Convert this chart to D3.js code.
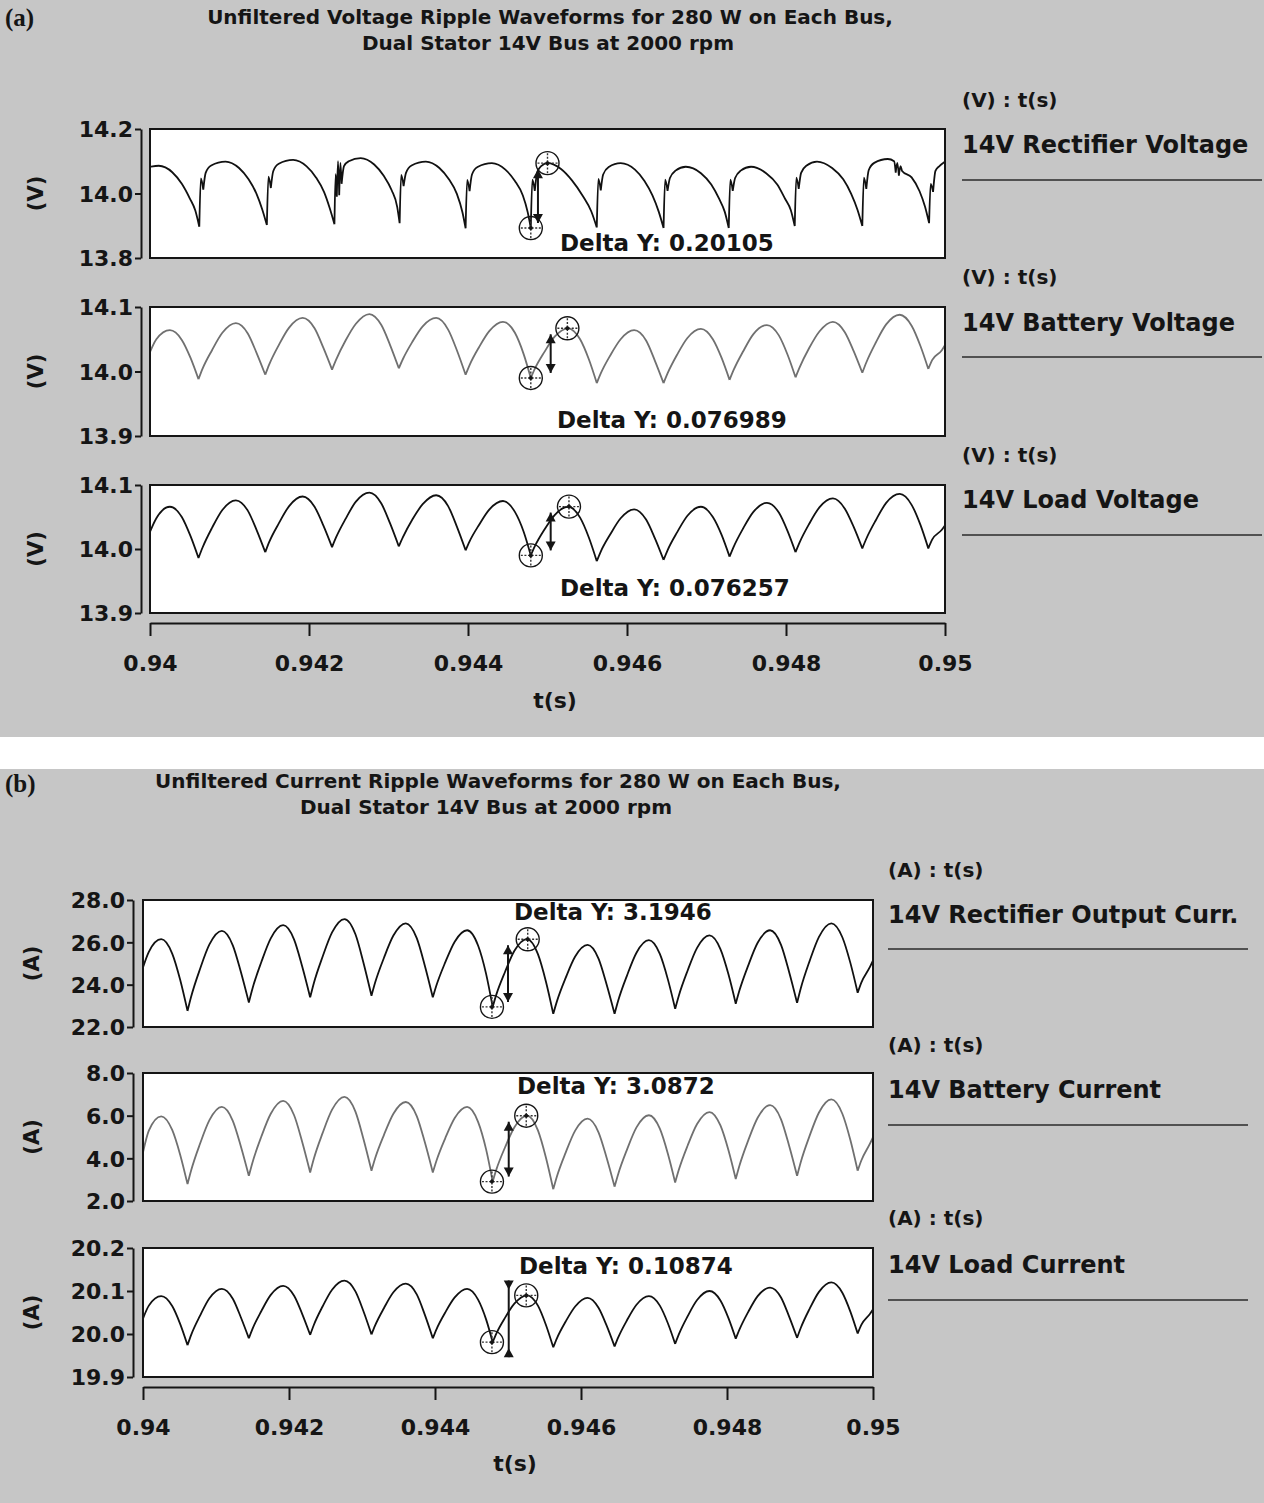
<!DOCTYPE html>
<html>
<head>
<meta charset="utf-8">
<title>Unfiltered ripple waveforms, dual stator 14V bus</title>
<script src="https://cdn.jsdelivr.net/npm/d3@7/dist/d3.min.js"></script>
<style>
  html, body { margin: 0; padding: 0; background: #ffffff; }
  svg { display: block; }
</style>
</head>
<body>
<svg id="fig" width="1264" height="1503"></svg>
<script>
// ---------------- shared time axis ----------------
const xDomain = [0.94, 0.95];
const xTicks = [0.94, 0.942, 0.944, 0.946, 0.948, 0.95];
const xTickLabels = ["0.94", "0.942", "0.944", "0.946", "0.948", "0.95"];

// ---------------- titles, names, units ----------------
const titleVoltage = ["Unfiltered Voltage Ripple Waveforms for 280 W on Each Bus,", "Dual Stator 14V Bus at 2000 rpm"];
const titleCurrent = ["Unfiltered Current Ripple Waveforms for 280 W on Each Bus,", "Dual Stator 14V Bus at 2000 rpm"];
const seriesNames = ["14V Rectifier Voltage", "14V Battery Voltage", "14V Load Voltage",
                     "14V Rectifier Output Curr.", "14V Battery Current", "14V Load Current"];
const unitLabels = ["(V) : t(s)", "(V) : t(s)", "(V) : t(s)", "(A) : t(s)", "(A) : t(s)", "(A) : t(s)"];
const axisUnits = ["(V)", "(V)", "(V)", "(A)", "(A)", "(A)"];

// ---------------- y axes ----------------
const yDomains = [[13.8, 14.2], [13.9, 14.1], [13.9, 14.1], [22, 28], [2, 8], [19.9, 20.2]];
const yTicks = [[13.8, 14.0, 14.2], [13.9, 14.0, 14.1], [13.9, 14.0, 14.1],
                [22, 24, 26, 28], [2, 4, 6, 8], [19.9, 20.0, 20.1, 20.2]];

// ---------------- 14V rectifier voltage (s, V) ----------------
const tRect = [
  0.94000, 0.94011, 0.94028, 0.94040, 0.94050, 0.94057,
  0.94062, 0.94064, 0.94067, 0.94070, 0.94077, 0.94095, 0.94112, 0.94124, 0.94134, 0.94141,
  0.94147, 0.94149, 0.94152, 0.94155, 0.94162, 0.94180, 0.94197, 0.94209, 0.94219, 0.94226,
  0.94232, 0.942335, 0.94235, 0.942365, 0.94238, 0.942395, 0.94241, 0.94244, 0.94250, 0.94265, 0.94282, 0.94294, 0.94304, 0.94311,
  0.94314, 0.94316, 0.94319, 0.94322, 0.94329, 0.94347, 0.94364, 0.94376, 0.94386, 0.94393,
  0.94397, 0.94399, 0.94402, 0.94405, 0.94412, 0.94430, 0.94447, 0.94459, 0.94469, 0.94475,
  0.94479, 0.94481, 0.94484, 0.94487, 0.94492, 0.94500, 0.94517, 0.94531, 0.94544, 0.94555,
  0.94562, 0.94564, 0.94567, 0.94570, 0.94577, 0.94592, 0.94610, 0.94622, 0.94632, 0.94640,
  0.94646, 0.94648, 0.94651, 0.94654, 0.94661, 0.94674, 0.94693, 0.94706, 0.94716, 0.94723,
  0.94728, 0.94730, 0.94733, 0.94736, 0.94743, 0.94756, 0.94775, 0.94789, 0.94799, 0.94806,
  0.94811, 0.94813, 0.94816, 0.94819, 0.94826, 0.94839, 0.94858, 0.94872, 0.94882, 0.94890,
  0.94896, 0.94898, 0.94901, 0.94904, 0.94911, 0.94928, 0.94936, 0.94938, 0.94940, 0.94942, 0.94944, 0.94946, 0.94958, 0.94968, 0.94975,
  0.94980, 0.94982, 0.94985, 0.94988, 0.94993, 0.95000
];
const vRect = [
  14.083, 14.086, 14.066, 14.030, 13.985, 13.947,
  13.897, 14.047, 14.012, 14.064, 14.087, 14.099, 14.079, 14.044, 13.999, 13.952,
  13.902, 14.052, 14.017, 14.069, 14.092, 14.104, 14.084, 14.049, 14.004, 13.955,
  13.905, 14.060, 13.990, 14.100, 13.995, 14.095, 14.030, 14.085, 14.100, 14.110, 14.090, 14.055, 14.010, 13.958,
  13.908, 14.058, 14.023, 14.064, 14.087, 14.099, 14.079, 14.044, 13.999, 13.942,
  13.892, 14.042, 14.007, 14.059, 14.082, 14.094, 14.074, 14.039, 13.994, 13.943,
  13.893, 14.043, 14.008, 14.065, 14.085, 14.094, 14.076, 14.040, 13.994, 13.945,
  13.895, 14.045, 14.010, 14.059, 14.082, 14.094, 14.074, 14.039, 13.994, 13.943,
  13.893, 14.043, 14.008, 14.048, 14.071, 14.083, 14.063, 14.028, 13.983, 13.943,
  13.893, 14.043, 14.008, 14.048, 14.071, 14.083, 14.063, 14.028, 13.983, 13.949,
  13.899, 14.049, 14.014, 14.064, 14.087, 14.099, 14.079, 14.044, 13.999, 13.949,
  13.899, 14.049, 14.014, 14.072, 14.095, 14.107, 14.100, 14.065, 14.095, 14.055, 14.085, 14.070, 14.050, 14.007, 13.958,
  13.908, 14.030, 14.005, 14.070, 14.085, 14.099
];

// ---------------- sample times of the filtered-side traces (s) ----------------
const tRipple = [
  0.94000, 0.94008, 0.94025, 0.94040, 0.94051,
  0.94061, 0.94066, 0.94078, 0.94091, 0.94108, 0.94123, 0.94134,
  0.94145, 0.94150, 0.94162, 0.94175, 0.94192, 0.94207, 0.94218,
  0.94229, 0.94234, 0.94246, 0.94259, 0.94276, 0.94291, 0.94302,
  0.94313, 0.94318, 0.94330, 0.94343, 0.94360, 0.94375, 0.94386,
  0.94397, 0.94402, 0.94414, 0.94427, 0.94444, 0.94459, 0.94470,
  0.94479, 0.94484, 0.94496, 0.94509, 0.94526, 0.94541, 0.94552,
  0.94562, 0.94567, 0.94579, 0.94592, 0.94609, 0.94624, 0.94635,
  0.94646, 0.94651, 0.94663, 0.94676, 0.94693, 0.94708, 0.94719,
  0.94729, 0.94734, 0.94746, 0.94759, 0.94776, 0.94791, 0.94802,
  0.94812, 0.94817, 0.94829, 0.94842, 0.94859, 0.94874, 0.94885,
  0.94896, 0.94901, 0.94913, 0.94926, 0.94943, 0.94958, 0.94969,
  0.94979, 0.94984, 0.94996, 0.95000
];

// 14V battery voltage (V)
const vBattery = [
  14.030, 14.050, 14.064, 14.049, 14.021,
  13.988, 14.004, 14.033, 14.060, 14.075, 14.059, 14.029,
  13.995, 14.011, 14.041, 14.068, 14.083, 14.067, 14.037,
  14.003, 14.018, 14.048, 14.074, 14.089, 14.072, 14.041,
  14.005, 14.019, 14.046, 14.070, 14.083, 14.065, 14.033,
  13.995, 14.010, 14.038, 14.063, 14.077, 14.060, 14.027,
  13.990, 14.004, 14.030, 14.054, 14.067, 14.050, 14.019,
  13.982, 13.997, 14.025, 14.050, 14.064, 14.048, 14.017,
  13.982, 13.997, 14.026, 14.052, 14.066, 14.050, 14.021,
  13.987, 14.002, 14.031, 14.058, 14.072, 14.056, 14.026,
  13.991, 14.006, 14.036, 14.062, 14.077, 14.061, 14.032,
  13.998, 14.014, 14.045, 14.073, 14.088, 14.071, 14.040,
  14.004, 14.018, 14.033, 14.041
];

// 14V load voltage (V)
const vLoad = [
  14.027, 14.048, 14.066, 14.050, 14.020,
  13.986, 14.002, 14.033, 14.061, 14.076, 14.060, 14.030,
  13.995, 14.011, 14.040, 14.067, 14.082, 14.066, 14.037,
  14.003, 14.018, 14.047, 14.074, 14.088, 14.071, 14.040,
  14.004, 14.018, 14.046, 14.070, 14.084, 14.067, 14.035,
  13.998, 14.012, 14.038, 14.062, 14.075, 14.058, 14.027,
  13.990, 14.004, 14.030, 14.053, 14.066, 14.049, 14.018,
  13.981, 13.996, 14.023, 14.048, 14.062, 14.046, 14.017,
  13.983, 13.998, 14.026, 14.052, 14.066, 14.050, 14.022,
  13.988, 14.003, 14.032, 14.058, 14.072, 14.057, 14.028,
  13.995, 14.010, 14.039, 14.065, 14.079, 14.063, 14.035,
  14.001, 14.016, 14.045, 14.072, 14.086, 14.069, 14.038,
  14.001, 14.015, 14.030, 14.037
];

// 14V rectifier output current (A)
const iRectOut = [
  24.82, 25.55, 26.15, 25.47, 24.22,
  22.76, 23.44, 24.73, 25.90, 26.54, 25.86, 24.61,
  23.16, 23.82, 25.06, 26.19, 26.81, 26.13, 24.87,
  23.40, 24.07, 25.32, 26.47, 27.10, 26.38, 25.04,
  23.48, 24.10, 25.26, 26.32, 26.90, 26.20, 24.91,
  23.40, 23.97, 25.05, 26.03, 26.57, 25.85, 24.51,
  22.95, 23.53, 24.61, 25.61, 26.15, 25.44, 24.14,
  22.62, 23.21, 24.32, 25.33, 25.88, 25.23, 24.02,
  22.62, 23.25, 24.43, 25.51, 26.10, 25.45, 24.25,
  22.86, 23.48, 24.66, 25.74, 26.33, 25.68, 24.49,
  23.10, 23.72, 24.90, 25.98, 26.57, 25.88, 24.61,
  23.14, 23.82, 25.10, 26.26, 26.90, 26.24, 25.03,
  23.62, 24.10, 24.85, 25.14
];

// 14V battery current (A)
const iBattery = [
  4.28, 5.30, 5.97, 5.33, 4.16,
  2.79, 3.44, 4.67, 5.79, 6.41, 5.76, 4.57,
  3.18, 3.81, 5.01, 6.09, 6.69, 6.02, 4.78,
  3.34, 3.98, 5.18, 6.28, 6.88, 6.19, 4.91,
  3.42, 4.00, 5.09, 6.09, 6.64, 5.98, 4.76,
  3.34, 3.89, 4.94, 5.89, 6.41, 5.71, 4.42,
  2.91, 3.47, 4.52, 5.47, 6.00, 5.31, 4.03,
  2.55, 3.15, 4.27, 5.30, 5.86, 5.22, 4.04,
  2.67, 3.27, 4.41, 5.45, 6.02, 5.39, 4.22,
  2.87, 3.46, 4.59, 5.61, 6.17, 5.54, 4.38,
  3.03, 3.65, 4.83, 5.90, 6.49, 5.83, 4.60,
  3.18, 3.82, 5.04, 6.15, 6.76, 6.09, 4.86,
  3.42, 3.90, 4.70, 4.99
];

// 14V load current (A)
const iLoad = [
  20.036, 20.066, 20.088, 20.065, 20.023,
  19.974, 19.998, 20.042, 20.083, 20.105, 20.082, 20.039,
  19.990, 20.012, 20.053, 20.091, 20.112, 20.089, 20.047,
  19.998, 20.021, 20.064, 20.103, 20.124, 20.099, 20.053,
  19.999, 20.020, 20.060, 20.097, 20.117, 20.092, 20.045,
  19.990, 20.011, 20.050, 20.085, 20.105, 20.080, 20.034,
  19.981, 20.001, 20.038, 20.071, 20.090, 20.066, 20.021,
  19.969, 19.990, 20.029, 20.064, 20.084, 20.061, 20.020,
  19.971, 19.992, 20.032, 20.068, 20.088, 20.066, 20.025,
  19.977, 19.999, 20.041, 20.079, 20.100, 20.078, 20.037,
  19.989, 20.010, 20.051, 20.088, 20.108, 20.085, 20.041,
  19.991, 20.014, 20.058, 20.098, 20.120, 20.096, 20.052,
  20.001, 20.021, 20.047, 20.057
];

// ---------------- measurement cursors ----------------
const deltaY = [0.20105, 0.076989, 0.076257, 3.1946, 3.0872, 0.10874];
const cursorLowT = [0.94479, 0.94479, 0.94479, 0.94478, 0.94478, 0.94478];
const cursorLowV = [13.893, 13.990, 13.990, 22.95, 2.91, 19.981];
const cursorHighT = [0.94500, 0.94525, 0.94527, 0.94527, 0.94525, 0.94525];
const cursorArrowT = [0.94488, 0.94504, 0.94504, 0.94500, 0.94501, 0.94501];

const seriesTimes = [tRect, tRipple, tRipple, tRipple, tRipple, tRipple];
const seriesValues = [vRect, vBattery, vLoad, iRectOut, iBattery, iLoad];

// ---------------- layout ----------------
const W = 1264, H = 1503;
const PAPER = "#c6c6c6";
const INK = "#151515";
const SANS = "'DejaVu Sans', Verdana, sans-serif";
const SERIF = "'Liberation Serif', 'Times New Roman', serif";

const panels = [
  { tag: "(a)", tagY: 26, title: titleVoltage, titleX: [550, 548], titleY: [24, 50],
    left: 150, right: 945, axisX: 141, unitX: 35, xAxisY: 623, tickLabelY: 671,
    tLabelX: 555, tLabelY: 708, sideX: 962, sideEnd: 1262, plots: [0, 1, 2] },
  { tag: "(b)", tagY: 792, title: titleCurrent, titleX: [498, 486], titleY: [788, 814],
    left: 143, right: 873, axisX: 133, unitX: 31, xAxisY: 1387, tickLabelY: 1435,
    tLabelX: 515, tLabelY: 1471, sideX: 888, sideEnd: 1248, plots: [3, 4, 5] }
];

const plotLayout = [
  { top: 129,  bottom: 258,  unitY: 107,  nameY: 153,  ruleY: 180,  deltaX: 560, deltaBase: 251,  arrow: "out", color: "#111111" },
  { top: 307,  bottom: 436,  unitY: 284,  nameY: 331,  ruleY: 357,  deltaX: 557, deltaBase: 428,  arrow: "out", color: "#707070" },
  { top: 485,  bottom: 613,  unitY: 462,  nameY: 508,  ruleY: 535,  deltaX: 560, deltaBase: 596,  arrow: "out", color: "#111111" },
  { top: 900,  bottom: 1027, unitY: 877,  nameY: 923,  ruleY: 949,  deltaX: 514, deltaBase: 920,  arrow: "out", color: "#111111" },
  { top: 1073, bottom: 1201, unitY: 1052, nameY: 1098, ruleY: 1125, deltaX: 517, deltaBase: 1094, arrow: "out", color: "#707070" },
  { top: 1248, bottom: 1377, unitY: 1225, nameY: 1273, ruleY: 1300, deltaX: 519, deltaBase: 1274, arrow: "in",  color: "#111111" }
];

const svg = d3.select("#fig");
svg.append("rect").attr("width", W).attr("height", H).attr("fill", "#ffffff");
svg.append("rect").attr("x", 0).attr("y", 0).attr("width", W).attr("height", 737).attr("fill", PAPER);
svg.append("rect").attr("x", 0).attr("y", 769).attr("width", W).attr("height", H - 769).attr("fill", PAPER);
const defs = svg.append("defs");

function label(g, x, y, str, size, anchor, family, weight) {
  return g.append("text")
    .attr("x", x).attr("y", y)
    .attr("font-family", family || SANS)
    .attr("font-weight", weight || "bold")
    .attr("font-size", size)
    .attr("text-anchor", anchor || "start")
    .attr("fill", INK)
    .text(str);
}

// path made of monotone arcs joined at each local minimum, so the cusps stay sharp
function ripplePath(ts, vs, x, y) {
  const pts = ts.map((t, i) => [x(t), y(vs[i])]);
  const line = d3.line().curve(d3.curveMonotoneX);
  let d = "", start = 0;
  for (let i = 1; i < pts.length; i++) {
    const last = i === pts.length - 1;
    const isMin = last || (vs[i] < vs[i - 1] && vs[i] <= vs[i + 1]);
    if (isMin) { d += line(pts.slice(start, i + 1)); start = i; }
  }
  return d;
}

function cursorMark(g, cx, cy) {
  const r = 11.5;
  g.append("circle").attr("cx", cx).attr("cy", cy).attr("r", r)
    .attr("fill", "none").attr("stroke", INK).attr("stroke-width", 1.4);
  g.append("line").attr("x1", cx).attr("x2", cx).attr("y1", cy - r + 1.5).attr("y2", cy + r - 1.5)
    .attr("stroke", "#333").attr("stroke-width", 1.4).attr("stroke-dasharray", "2,1.6");
  g.append("line").attr("x1", cx - r + 1.5).attr("x2", cx + r - 1.5).attr("y1", cy).attr("y2", cy)
    .attr("stroke", "#333").attr("stroke-width", 1.4).attr("stroke-dasharray", "2,1.6");
  g.append("circle").attr("cx", cx).attr("cy", cy).attr("r", 2).attr("fill", INK);
}

function arrowHead(g, x, tipY, dir) {
  // dir -1 points up, +1 points down
  const w = 5, h = 9;
  g.append("path")
    .attr("d", `M${x},${tipY} L${x - w},${tipY - dir * h} L${x + w},${tipY - dir * h} Z`)
    .attr("fill", INK);
}

function drawPlot(panel, k) {
  const L = plotLayout[k];
  const g = svg.append("g");
  const x = d3.scaleLinear().domain(xDomain).range([panel.left, panel.right]);
  const y = d3.scaleLinear().domain(yDomains[k]).range([L.bottom, L.top]);

  // frame
  g.append("rect")
    .attr("x", panel.left).attr("y", L.top)
    .attr("width", panel.right - panel.left).attr("height", L.bottom - L.top)
    .attr("fill", "#ffffff").attr("stroke", INK).attr("stroke-width", 2);

  // y axis, detached to the left of the frame
  const ay = g.append("g").attr("transform", `translate(${panel.axisX},0)`)
    .call(d3.axisLeft(y).tickValues(yTicks[k]).tickFormat(d3.format(".1f")).tickSize(6).tickSizeOuter(0));
  ay.select(".domain").attr("stroke", INK).attr("stroke-width", 2);
  ay.selectAll(".tick line").attr("stroke", INK).attr("stroke-width", 2);
  ay.selectAll(".tick text")
    .attr("font-family", SANS).attr("font-weight", "bold").attr("font-size", 22)
    .attr("fill", INK).attr("x", -8).attr("dy", "0.36em");

  // unit on the y axis
  g.append("text")
    .attr("transform", `translate(${panel.unitX},${(L.top + L.bottom) / 2}) rotate(-90)`)
    .attr("text-anchor", "middle").attr("dy", "0.36em")
    .attr("font-family", SANS).attr("font-weight", "bold").attr("font-size", 21)
    .attr("fill", INK).text(axisUnits[k]);

  // waveform
  const clipId = "clip" + k;
  defs.append("clipPath").attr("id", clipId).append("rect")
    .attr("x", panel.left + 1).attr("y", L.top + 1)
    .attr("width", panel.right - panel.left - 2).attr("height", L.bottom - L.top - 2);
  g.append("path")
    .attr("clip-path", `url(#${clipId})`)
    .attr("d", ripplePath(seriesTimes[k], seriesValues[k], x, y))
    .attr("fill", "none").attr("stroke", L.color).attr("stroke-width", 1.8)
    .attr("stroke-linejoin", "round");

  // delta cursor
  const lowV = cursorLowV[k];
  const highV = lowV + deltaY[k];
  const yLow = y(lowV), yHigh = y(highV);
  const ax = x(cursorArrowT[k]);
  const cg = g.append("g");
  let y1, y2;
  if (L.arrow === "out") { y1 = yHigh + 6; y2 = yLow - 5; } else { y1 = yHigh - 15; y2 = yLow + 15; }
  cg.append("line").attr("x1", ax).attr("x2", ax).attr("y1", y1).attr("y2", y2)
    .attr("stroke", INK).attr("stroke-width", 2);
  if (L.arrow === "out") {
    arrowHead(cg, ax, y1, -1);
    arrowHead(cg, ax, y2, 1);
  } else {
    arrowHead(cg, ax, y1 + 9, 1);
    arrowHead(cg, ax, y2 - 9, -1);
  }
  cursorMark(cg, x(cursorLowT[k]), yLow);
  cursorMark(cg, x(cursorHighT[k]), yHigh);

  label(g, L.deltaX, L.deltaBase, "Delta Y: " + deltaY[k], 23);

  // legend column on the right
  label(g, panel.sideX, L.unitY, unitLabels[k], 20);
  label(g, panel.sideX, L.nameY, seriesNames[k], 24);
  g.append("line").attr("x1", panel.sideX).attr("x2", panel.sideEnd)
    .attr("y1", L.ruleY).attr("y2", L.ruleY)
    .attr("stroke", "#2a2a2a").attr("stroke-width", 1.6);
}

panels.forEach(panel => {
  const g = svg.append("g");
  label(g, 5, panel.tagY, panel.tag, 25, "start", SERIF, "bold");
  panel.title.forEach((line, i) => label(g, panel.titleX[i], panel.titleY[i], line, 20, "middle"));

  panel.plots.forEach(k => drawPlot(panel, k));

  // shared time axis under the three traces
  const x = d3.scaleLinear().domain(xDomain).range([panel.left, panel.right]);
  const axg = g.append("g").attr("transform", `translate(0,${panel.xAxisY})`)
    .call(d3.axisBottom(x).tickValues(xTicks).tickFormat((d, i) => xTickLabels[i]).tickSize(13).tickSizeOuter(0));
  axg.select(".domain").attr("stroke", INK).attr("stroke-width", 2);
  axg.selectAll(".tick line").attr("stroke", INK).attr("stroke-width", 2);
  axg.selectAll(".tick text")
    .attr("font-family", SANS).attr("font-weight", "bold").attr("font-size", 22)
    .attr("fill", INK).attr("y", panel.tickLabelY - panel.xAxisY).attr("dy", 0);

  label(g, panel.tLabelX, panel.tLabelY, "t(s)", 22, "middle");
});
</script>
</body>
</html>
